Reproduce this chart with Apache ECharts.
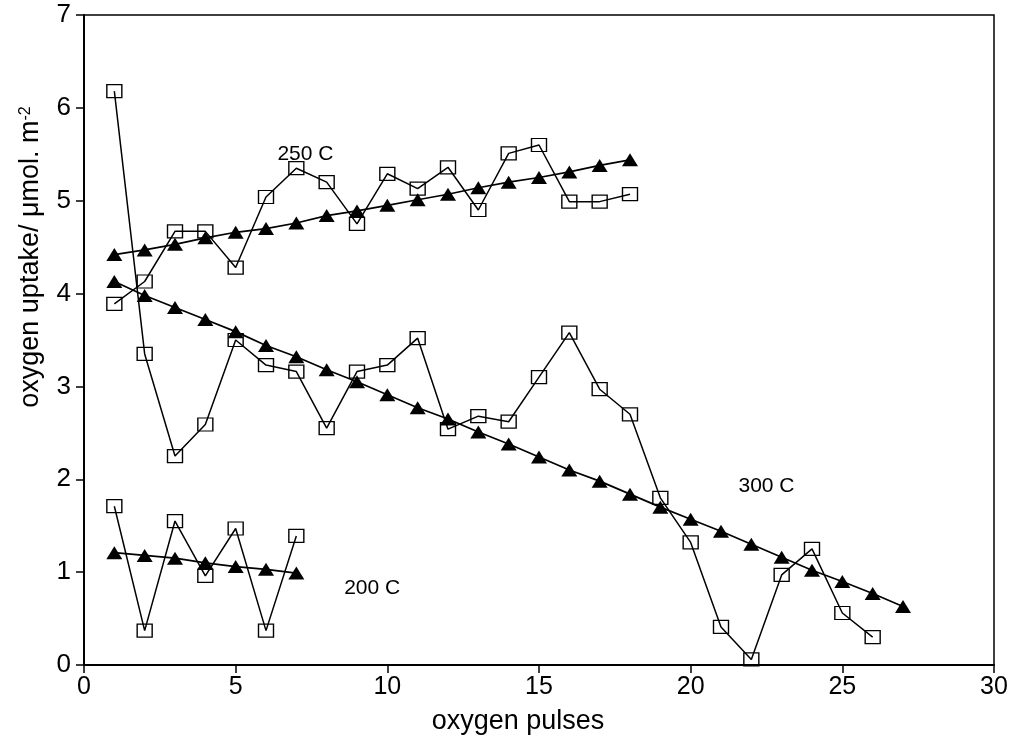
<!DOCTYPE html>
<html>
<head>
<meta charset="utf-8">
<script src="https://cdn.jsdelivr.net/npm/echarts/dist/echarts.min.js"></script>
<style>
html,body{margin:0;padding:0;background:#fff;}
#chart{width:1016px;height:744px;}
</style>
</head>
<body>
<div id="chart"></div>
<script>
// ---- data ----
const pulses = [1,2,3,4,5,6,7,8,9,10,11,12,13,14,15,16,17,18,19,20,21,22,23,24,25,26,27];

const sq300  = [6.18,3.35,2.25,2.59,3.50,3.23,3.16,2.55,3.16,3.23,3.52,2.54,2.68,2.62,3.10,3.58,2.97,2.70,1.80,1.32,0.41,0.06,0.97,1.25,0.56,0.30];
const tri300 = [4.13,3.98,3.85,3.72,3.59,3.44,3.32,3.18,3.05,2.91,2.77,2.65,2.51,2.38,2.24,2.10,1.98,1.84,1.70,1.57,1.44,1.30,1.16,1.02,0.90,0.77,0.63];

const sq250  = [3.89,4.13,4.67,4.67,4.28,5.04,5.35,5.20,4.75,5.29,5.13,5.36,4.90,5.51,5.60,4.99,4.99,5.07];
const tri250 = [4.42,4.47,4.53,4.60,4.66,4.70,4.76,4.84,4.89,4.95,5.01,5.07,5.14,5.20,5.25,5.31,5.38,5.44];

const sq200  = [1.71,0.37,1.55,0.96,1.47,0.37,1.39];
const tri200 = [1.21,1.18,1.15,1.10,1.06,1.03,0.99];

const annotationText = ['250 C', '300 C', '200 C'];
const annotationX    = [7.3, 22.5, 9.5];
const annotationY    = [5.50, 1.93, 0.83];

const xTitle = 'oxygen pulses';
const yTitle = 'oxygen uptake/ \u03BCmol. m';
const yTitleSup = '-2';

// ---- chart ----
const FONT = '"Liberation Sans", Arial, Helvetica, sans-serif';
function pairs(ys){ return ys.map((v,i)=>[pulses[i], v]); }

function squareSeries(ys){
  return {
    type:'line', data: pairs(ys), symbol:'rect', symbolSize:[15,13],
    showAllSymbol:true, silent:true, z:2,
    itemStyle:{color:'rgba(0,0,0,0)', borderColor:'#000', borderWidth:1.3},
    lineStyle:{color:'#000', width:1.5}
  };
}
function triSeries(ys){
  return {
    type:'line', data: pairs(ys), symbol:'triangle', symbolSize:[16,13],
    showAllSymbol:true, silent:true, z:3,
    itemStyle:{color:'#000', borderWidth:0},
    lineStyle:{color:'#000', width:1.7}
  };
}

const chart = echarts.init(document.getElementById('chart'), null, {renderer:'canvas'});
chart.setOption({
  animation:false,
  backgroundColor:'#fff',
  grid:{left:84, right:22, top:15, bottom:79, show:true, borderColor:'#000', borderWidth:1.5, backgroundColor:'transparent'},
  xAxis:{
    type:'value', min:0, max:30, interval:5,
    name:xTitle, nameLocation:'middle', nameGap:43,
    nameTextStyle:{fontFamily:FONT, fontSize:27, color:'#000', padding:[0,42,0,0]},
    axisLine:{lineStyle:{color:'#000', width:2}},
    axisTick:{show:true, length:8, inside:false, lineStyle:{color:'#000', width:1.5}},
    axisLabel:{fontFamily:FONT, fontSize:25, color:'#000', margin:10},
    splitLine:{show:false}
  },
  yAxis:{
    type:'value', min:0, max:7, interval:1,
    axisLine:{show:true, lineStyle:{color:'#000', width:2}},
    axisTick:{show:true, length:8, inside:false, lineStyle:{color:'#000', width:1.5}},
    axisLabel:{fontFamily:FONT, fontSize:26, color:'#000', margin:13},
    splitLine:{show:false}
  },
  series:[
    squareSeries(sq300), triSeries(tri300),
    squareSeries(sq250), triSeries(tri250),
    squareSeries(sq200), triSeries(tri200)
  ]
});

const graphics = annotationText.map((t,i)=>{
  const p = chart.convertToPixel({gridIndex:0}, [annotationX[i], annotationY[i]]);
  return {
    type:'text', x:p[0], y:p[1], silent:true,
    style:{text:t, fontFamily:FONT, fontSize:21, fill:'#000', align:'center', verticalAlign:'middle'}
  };
});
graphics.push({
  type:'text', x:31, y:257, rotation:Math.PI/2, silent:true,
  style:{
    text:'{a|' + yTitle + '}{b|' + yTitleSup + '}',
    align:'center', verticalAlign:'middle', fill:'#000',
    rich:{
      a:{fontFamily:FONT, fontSize:27, fill:'#000', color:'#000'},
      b:{fontFamily:FONT, fontSize:16, fill:'#000', color:'#000', verticalAlign:'top'}
    }
  }
});
chart.setOption({graphic:graphics});
</script>
</body>
</html>
